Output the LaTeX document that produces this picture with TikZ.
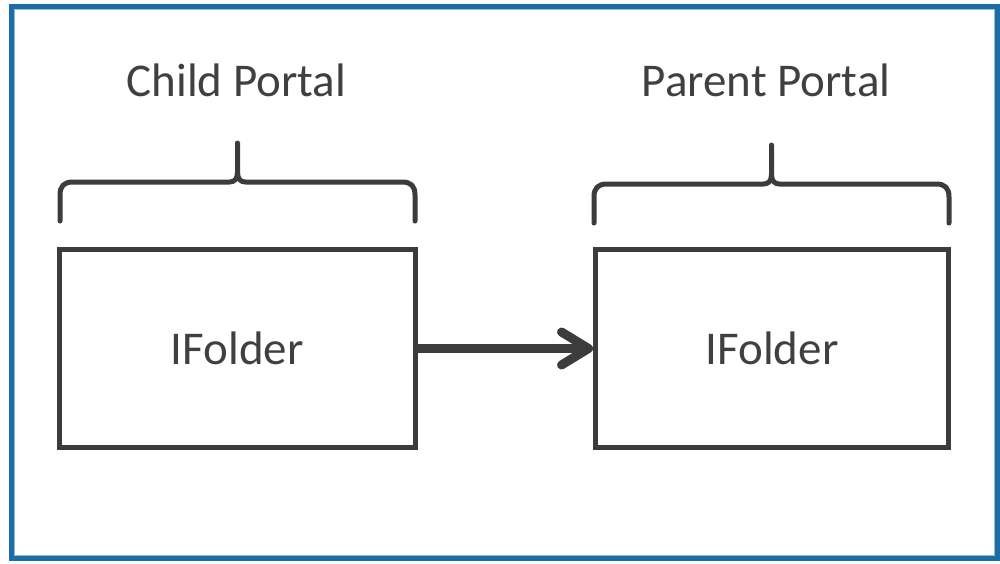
\documentclass[tikz,border=0pt]{standalone}
\usepackage{fontspec}
\setmainfont{Carlito}
\usetikzlibrary{arrows.meta}

\definecolor{frameblue}{HTML}{1B6EA5}
\definecolor{framelight}{HTML}{8FBCDA}
\definecolor{ink}{HTML}{3C3C3C}
\definecolor{txt}{HTML}{404040}

\tikzset{
  bigtext/.style={font=\fontsize{47}{56}\selectfont, text=txt},
  folderbox/.style={draw=ink, line width=5pt, inner sep=0pt,
    minimum height=198pt, bigtext},
  portal/.style={bigtext, anchor=base, inner sep=0pt},
  bracket/.style={draw=ink, line width=5pt, line cap=round, line join=round},
  link/.style={draw=ink, line width=9pt,
    -{Straight Barb[length=27pt, width=33pt, round]}},
  frame/.style={draw=frameblue, line width=5pt},
  frameinner/.style={draw=framelight, line width=1pt},
}

% curly bracket: left x, right x, tip x, bottom y, bar y, top y
\newcommand\curlybracket[6]{%
  \draw[bracket]
    (#1,#4) -- ({#1},{#5+13})
      .. controls ({#1},{#5+4}) and ({#1+4},{#5}) .. ({#1+13},{#5})
      -- ({#3-8},{#5})
      .. controls ({#3-3},{#5}) and ({#3},{#5-3}) .. ({#3},{#5-10})
      -- ({#3},{#6})
    ({#3},{#5-10})
      .. controls ({#3},{#5-3}) and ({#3+3},{#5}) .. ({#3+8},{#5})
      -- ({#2-13},{#5})
      .. controls ({#2-4},{#5}) and ({#2},{#5+4}) .. ({#2},{#5+13})
      -- (#2,#4);%
}

\begin{document}
\begin{tikzpicture}[x=1pt, y=-1pt]
  \useasboundingbox (0,0) rectangle (1000,563);

  % outer frame
  \draw[frame] (11,6.5) rectangle (997.5,558.5);
  \draw[frameinner] (14,9.5) rectangle (994.5,555.5);

  % portal titles
  \node[portal] (childtitle)  at (236.5,96) {Child Portal};
  \node[portal] (parenttitle) at (766,96)   {Parent Portal};

  % brackets under the titles
  \curlybracket{60}{415}{237.5}{221}{182}{143}
  \curlybracket{594}{949}{771.5}{223}{184}{145}

  % folder boxes
  \node[folderbox, minimum width=355.5pt] (childbox)  at (237.25,348.5) {IFolder};
  \node[folderbox, minimum width=353pt]   (parentbox) at (772,348.5)    {IFolder};

  % link between the two folders
  \draw[link] (childbox.east) -- (parentbox.west);
\end{tikzpicture}
\end{document}
